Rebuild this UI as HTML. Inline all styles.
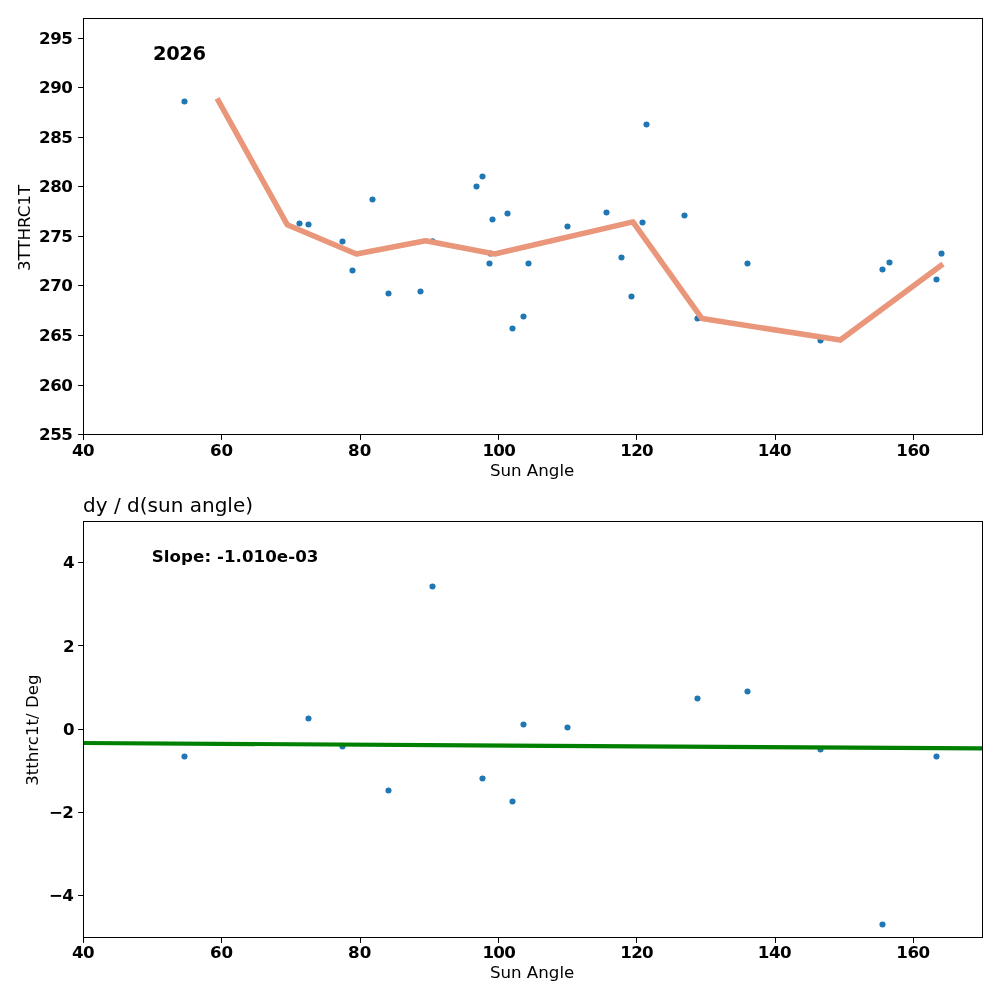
<!DOCTYPE html>
<html lang="en"><head><meta charset="utf-8"><title>3TTHRC1T vs Sun Angle</title>
<style>html,body{margin:0;padding:0;background:#fff;}body{width:1000px;height:1000px;overflow:hidden;}svg{display:block;will-change:transform;}text{font-family:'DejaVu Sans','Liberation Sans',sans-serif;fill:#000;}.tk{font-size:16.667px;font-weight:bold;letter-spacing:-0.45px;}.lb{font-size:16.667px;}.tt{font-size:20px;}</style></head><body>
<svg width="1000" height="1000" viewBox="0 0 1000 1000">
<rect x="0" y="0" width="1000" height="1000" fill="#fff"/>
<clipPath id="c1"><rect x="83.5" y="18.5" width="899" height="416"/></clipPath>
<clipPath id="c2"><rect x="83.5" y="521.5" width="899" height="416"/></clipPath>
<g clip-path="url(#c1)">
<g fill="#1f77b4"><circle cx="184.5" cy="101.5" r="3.05"/><circle cx="299.5" cy="223.5" r="3.05"/><circle cx="308.5" cy="224.5" r="3.05"/><circle cx="342.5" cy="241.5" r="3.05"/><circle cx="372.5" cy="199.5" r="3.05"/><circle cx="352.5" cy="270.5" r="3.05"/><circle cx="388.5" cy="293.5" r="3.05"/><circle cx="420.5" cy="291.5" r="3.05"/><circle cx="432.5" cy="241.3" r="3.05"/><circle cx="476.5" cy="186.5" r="3.05"/><circle cx="482.5" cy="176.5" r="3.05"/><circle cx="492.5" cy="219.5" r="3.05"/><circle cx="507.5" cy="213.5" r="3.05"/><circle cx="489.5" cy="263.5" r="3.05"/><circle cx="490.5" cy="253.5" r="3.05"/><circle cx="528.5" cy="263.5" r="3.05"/><circle cx="523.5" cy="316.5" r="3.05"/><circle cx="512.5" cy="328.5" r="3.05"/><circle cx="567.5" cy="226.5" r="3.05"/><circle cx="606.5" cy="212.5" r="3.05"/><circle cx="646.5" cy="124.5" r="3.05"/><circle cx="642.5" cy="222.5" r="3.05"/><circle cx="684.5" cy="215.5" r="3.05"/><circle cx="621.5" cy="257.5" r="3.05"/><circle cx="631.5" cy="296.5" r="3.05"/><circle cx="697.5" cy="318.5" r="3.05"/><circle cx="747.5" cy="263.5" r="3.05"/><circle cx="820.5" cy="340.5" r="3.05"/><circle cx="882.5" cy="269.5" r="3.05"/><circle cx="889.5" cy="262.5" r="3.05"/><circle cx="941.5" cy="253.5" r="3.05"/><circle cx="936.5" cy="279.5" r="3.05"/></g>
<polyline fill="none" stroke="#e9967a" stroke-width="5.56" stroke-linejoin="round" stroke-linecap="butt" points="217.10,98.40 287.20,224.70 356.40,254.00 425.50,240.80 494.70,253.95 632.90,221.90 702.00,318.60 840.30,340.10 943.00,264.10"/>
</g>
<g fill="#000"><rect x="83" y="18" width="900" height="1"/><rect x="83" y="434" width="900" height="1"/><rect x="83" y="18" width="1" height="417"/><rect x="982" y="18" width="1" height="417"/><rect x="83" y="434" width="1" height="5.9"/><rect x="221" y="434" width="1" height="5.9"/><rect x="360" y="434" width="1" height="5.9"/><rect x="498" y="434" width="1" height="5.9"/><rect x="636" y="434" width="1" height="5.9"/><rect x="775" y="434" width="1" height="5.9"/><rect x="913" y="434" width="1" height="5.9"/><rect x="78.1" y="434" width="5.9" height="1"/><rect x="78.1" y="385" width="5.9" height="1"/><rect x="78.1" y="335" width="5.9" height="1"/><rect x="78.1" y="285" width="5.9" height="1"/><rect x="78.1" y="236" width="5.9" height="1"/><rect x="78.1" y="186" width="5.9" height="1"/><rect x="78.1" y="137" width="5.9" height="1"/><rect x="78.1" y="87" width="5.9" height="1"/><rect x="78.1" y="38" width="5.9" height="1"/></g>
<text class="tk" style="letter-spacing:-0.60px" x="83.05" y="456.2" text-anchor="middle">40</text>
<text class="tk" style="letter-spacing:-0.05px" x="221.46" y="456.2" text-anchor="middle">60</text>
<text class="tk" style="letter-spacing:0.05px" x="359.67" y="456.2" text-anchor="middle">80</text>
<text class="tk" style="letter-spacing:-0.75px" x="498.77" y="456.2" text-anchor="middle">100</text>
<text class="tk" style="letter-spacing:-0.75px" x="636.63" y="456.2" text-anchor="middle">120</text>
<text class="tk" style="letter-spacing:-0.45px" x="774.49" y="456.2" text-anchor="middle">140</text>
<text class="tk" style="letter-spacing:-0.45px" x="913.00" y="456.2" text-anchor="middle">160</text>
<text class="tk" x="72.45" y="440.0" text-anchor="end">255</text>
<text class="tk" x="72.45" y="390.5" text-anchor="end">260</text>
<text class="tk" x="72.45" y="341.0" text-anchor="end">265</text>
<text class="tk" x="72.45" y="291.4" text-anchor="end">270</text>
<text class="tk" x="72.45" y="241.9" text-anchor="end">275</text>
<text class="tk" x="72.45" y="192.4" text-anchor="end">280</text>
<text class="tk" x="72.45" y="142.9" text-anchor="end">285</text>
<text class="tk" x="72.45" y="93.3" text-anchor="end">290</text>
<text class="tk" x="72.45" y="43.8" text-anchor="end">295</text>
<text class="lb" x="532.1" y="476" text-anchor="middle">Sun Angle</text>
<text class="lb" transform="translate(30.4,227.9) rotate(-90)" text-anchor="middle">3TTHRC1T</text>
<text x="153.1" y="60" style="font-size:19.44px;font-weight:bold;letter-spacing:-0.43px">2026</text>
<g clip-path="url(#c2)">
<g fill="#1f77b4"><circle cx="184.5" cy="756.5" r="3.05"/><circle cx="308.5" cy="718.5" r="3.05"/><circle cx="342.5" cy="746.5" r="3.05"/><circle cx="432.5" cy="586.5" r="3.05"/><circle cx="388.5" cy="790.5" r="3.05"/><circle cx="482.5" cy="778.5" r="3.05"/><circle cx="512.5" cy="801.5" r="3.05"/><circle cx="523.5" cy="724.5" r="3.05"/><circle cx="567.5" cy="727.5" r="3.05"/><circle cx="697.5" cy="698.5" r="3.05"/><circle cx="747.5" cy="691.5" r="3.05"/><circle cx="820.5" cy="749.5" r="3.05"/><circle cx="936.5" cy="756.5" r="3.05"/><circle cx="882.5" cy="924.5" r="3.05"/></g>
<line x1="83.5" y1="743.0" x2="982.5" y2="748.45" stroke="#008000" stroke-width="4.17"/>
</g>
<g fill="#000"><rect x="83" y="521" width="900" height="1"/><rect x="83" y="937" width="900" height="1"/><rect x="83" y="521" width="1" height="417"/><rect x="982" y="521" width="1" height="417"/><rect x="83" y="937" width="1" height="5.9"/><rect x="221" y="937" width="1" height="5.9"/><rect x="360" y="937" width="1" height="5.9"/><rect x="498" y="937" width="1" height="5.9"/><rect x="636" y="937" width="1" height="5.9"/><rect x="775" y="937" width="1" height="5.9"/><rect x="913" y="937" width="1" height="5.9"/><rect x="78.1" y="895" width="5.9" height="1"/><rect x="78.1" y="812" width="5.9" height="1"/><rect x="78.1" y="729" width="5.9" height="1"/><rect x="78.1" y="645" width="5.9" height="1"/><rect x="78.1" y="562" width="5.9" height="1"/></g>
<text class="tk" style="letter-spacing:-0.60px" x="83.05" y="958.0" text-anchor="middle">40</text>
<text class="tk" style="letter-spacing:-0.05px" x="221.46" y="958.0" text-anchor="middle">60</text>
<text class="tk" style="letter-spacing:0.05px" x="359.67" y="958.0" text-anchor="middle">80</text>
<text class="tk" style="letter-spacing:-0.75px" x="498.77" y="958.0" text-anchor="middle">100</text>
<text class="tk" style="letter-spacing:-0.75px" x="636.63" y="958.0" text-anchor="middle">120</text>
<text class="tk" style="letter-spacing:-0.45px" x="774.49" y="958.0" text-anchor="middle">140</text>
<text class="tk" style="letter-spacing:-0.45px" x="913.00" y="958.0" text-anchor="middle">160</text>
<text class="tk" style="letter-spacing:-0.85px" x="72.9" y="901.1" text-anchor="end">−4</text>
<text class="tk" style="letter-spacing:-0.85px" x="72.9" y="817.9" text-anchor="end">−2</text>
<text class="tk" x="74.2" y="734.7" text-anchor="end">0</text>
<text class="tk" x="74.2" y="651.5" text-anchor="end">2</text>
<text class="tk" x="74.2" y="568.3" text-anchor="end">4</text>
<text class="lb" x="532.1" y="978.3" text-anchor="middle">Sun Angle</text>
<text class="lb" transform="translate(38.2,730.1) rotate(-90)" text-anchor="middle">3tthrc1t/ Deg</text>
<text class="tt" x="83.1" y="512.3">dy / d(sun angle)</text>
<text class="tk" style="letter-spacing:0.05px" x="151.8" y="561.8">Slope: -1.010e-03</text>
</svg></body></html>
